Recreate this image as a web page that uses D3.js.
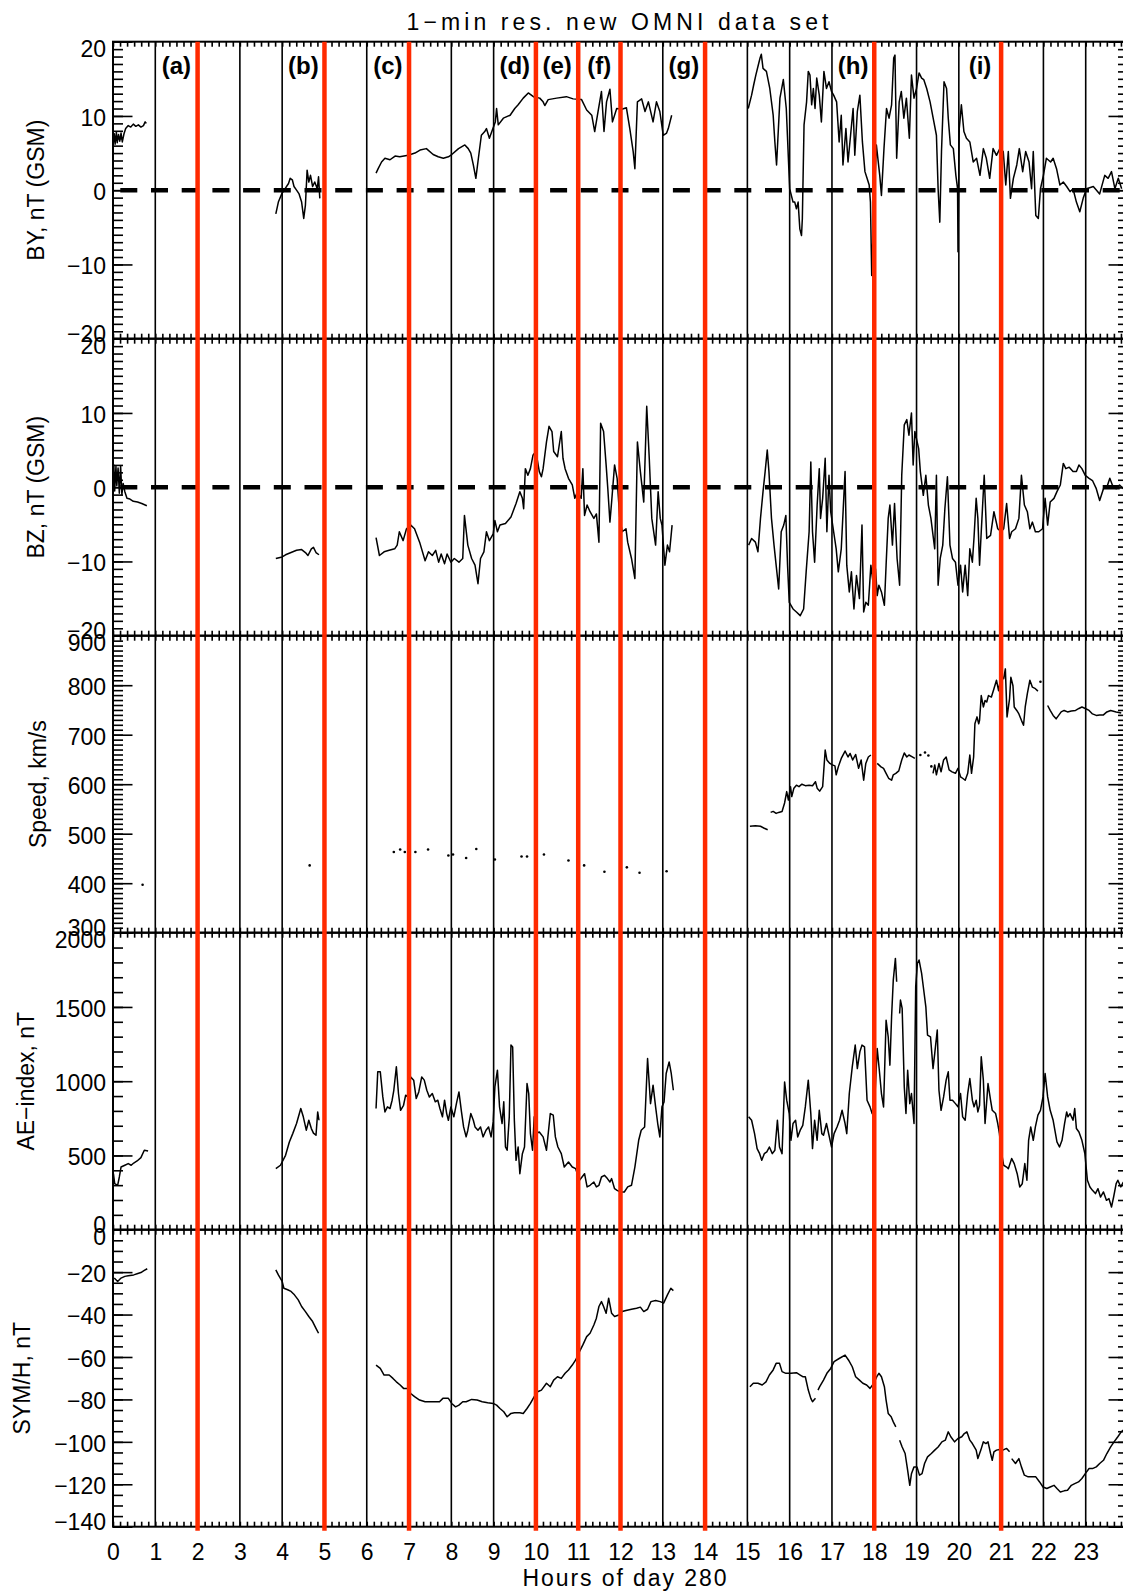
<!DOCTYPE html>
<html>
<head>
<meta charset="utf-8">
<script src="https://cdn.jsdelivr.net/npm/d3@7"></script>
<style>
  body { margin: 0; background: #fff; }
  svg { display: block; font-family: "Liberation Sans", Arial, sans-serif; }
</style>
</head>
<body>
<div id="chart"></div>
<script>
const WIDTH = 1123;
const HEIGHT = 1593;
const MARGINS = { top: 41.7, left: 113, right: 1128 };
const PANEL_HEIGHT = 297;
const FONT_SIZE = 23;
const RED = "#ff2a00";

// Tick labels and event markers
const HOURS = [0, 1, 2, 3, 4, 5, 6, 7, 8, 9, 10, 11, 12, 13, 14, 15, 16, 17, 18, 19, 20, 21, 22, 23];
const EVENT_HOURS = [2, 5, 7, 10, 11, 12, 14, 18, 21];
const EVENT_LABELS = ["(a)", "(b)", "(c)", "(d)", "(e)", "(f)", "(g)", "(h)", "(i)"];
const EVENT_LABEL_HOURS = [1.5, 4.5, 6.5, 9.5, 10.5, 11.5, 13.5, 17.5, 20.5];
const BY_TICKS = [-20, -10, 0, 10, 20];
const BZ_TICKS = [-20, -10, 0, 10, 20];
const SPEED_TICKS = [300, 400, 500, 600, 700, 800, 900];
const AE_TICKS = [0, 500, 1000, 1500, 2000];
const SYM_TICKS = [-140, -120, -100, -80, -60, -40, -20, 0];

// Series values: [hour, value], null = data gap
const BY_VALUES = [
  [0.00,6.0],[0.03,7.6],[0.05,6.2],[0.08,7.8],[0.10,6.4],[0.13,7.5],[0.16,6.6],[0.19,7.7],[0.22,6.5],[0.26,7.6],[0.30,8.3],[0.36,8.7],[0.42,8.5],[0.48,8.9],[0.54,8.6],[0.60,8.8],[0.66,8.5],[0.72,8.7],[0.76,9.2],[0.79,9.0],
  null,
  [3.85,-3.2],[3.91,-1.6],[3.99,-0.5],[4.07,0.2],[4.15,0.9],[4.19,1.6],[4.24,1.4],[4.28,0.5],[4.34,0.0],[4.40,-0.5],[4.46,-1.6],[4.51,-3.8],[4.55,-2.0],[4.59,2.7],[4.63,1.1],[4.67,2.0],[4.72,0.5],[4.77,1.1],[4.83,0.2],[4.86,1.8],[4.89,-1.1],
  null,
  [6.22,2.3],[6.27,2.9],[6.35,3.8],[6.43,4.3],[6.55,4.1],[6.67,4.6],[6.78,4.5],[6.98,4.7],[7.14,5.0],[7.26,5.4],[7.41,5.6],[7.57,4.8],[7.69,4.5],[7.81,4.3],[7.93,4.5],[8.01,4.8],[8.17,5.6],[8.32,6.1],[8.40,5.6],[8.46,5.0],[8.52,3.4],[8.58,1.6],[8.64,4.3],[8.71,7.4],[8.79,7.9],[8.83,8.3],[8.90,7.0],[8.97,8.1],[9.04,9.2],[9.07,11.0],[9.11,8.8],[9.23,9.7],[9.39,10.1],[9.50,11.0],[9.58,11.5],[9.70,12.4],[9.82,13.1],[9.94,12.6],[10.09,12.4],[10.17,11.9],[10.21,11.4],[10.29,12.2],[10.49,12.4],[10.72,12.6],[10.88,12.3],[11.08,12.2],[11.20,10.8],[11.32,10.1],[11.39,7.9],[11.47,10.6],[11.55,13.3],[11.61,7.9],[11.67,11.9],[11.75,13.6],[11.81,9.2],[11.91,11.0],[12.03,10.9],[12.14,11.1],[12.22,8.3],[12.30,5.2],[12.34,2.9],[12.40,11.9],[12.50,12.3],[12.58,10.6],[12.66,11.9],[12.77,9.2],[12.85,11.9],[12.93,10.6],[13.01,7.4],[13.09,7.7],[13.13,8.3],[13.21,10.1],
  null,
  [15.02,11.0],[15.10,12.8],[15.15,14.2],[15.20,15.5],[15.26,16.9],[15.30,17.8],[15.33,18.3],[15.37,16.4],[15.45,16.0],[15.53,13.7],[15.61,10.1],[15.65,6.5],[15.69,3.4],[15.77,12.4],[15.85,14.9],[15.92,11.0],[16.00,0.2],[16.08,-1.6],[16.12,-1.6],[16.16,-2.5],[16.20,-1.6],[16.24,-5.2],[16.28,-6.1],[16.30,-3.8],[16.34,8.8],[16.40,11.9],[16.44,16.0],[16.48,15.5],[16.52,11.5],[16.56,13.7],[16.60,11.0],[16.64,15.1],[16.70,12.8],[16.75,9.2],[16.81,16.0],[16.87,13.7],[16.93,14.6],[16.99,13.3],[17.04,12.8],[17.11,11.9],[17.17,6.5],[17.22,10.1],[17.26,3.4],[17.33,8.3],[17.38,3.8],[17.44,7.4],[17.50,11.0],[17.54,4.7],[17.60,10.6],[17.66,12.8],[17.72,6.5],[17.78,2.5],[17.83,1.6],[17.88,0.7],[17.91,-1.6],[17.94,-11.5],[17.97,-6.1],[18.01,0.2],[18.05,6.1],[18.13,2.0],[18.17,-0.7],[18.23,5.6],[18.29,11.0],[18.35,9.7],[18.41,11.5],[18.46,17.8],[18.49,18.2],[18.53,4.3],[18.59,11.9],[18.64,13.3],[18.70,9.7],[18.76,12.4],[18.83,7.0],[18.88,15.5],[18.94,12.4],[19.00,13.7],[19.06,15.8],[19.12,15.1],[19.17,14.9],[19.24,13.7],[19.32,11.9],[19.41,9.2],[19.47,7.4],[19.51,0.2],[19.55,-4.3],[19.59,5.2],[19.65,14.6],[19.71,13.7],[19.75,9.7],[19.80,6.1],[19.87,5.6],[19.93,2.0],[19.97,0.2],[19.98,-8.3],[20.01,8.3],[20.06,11.5],[20.12,7.9],[20.18,7.0],[20.26,6.5],[20.34,3.8],[20.42,4.3],[20.50,2.0],[20.58,5.6],[20.65,4.3],[20.73,1.6],[20.81,5.6],[20.89,4.7],[20.97,5.6],[21.05,5.2],[21.11,0.7],[21.17,5.2],[21.22,-1.1],[21.29,1.6],[21.37,3.4],[21.43,5.6],[21.51,2.5],[21.58,5.2],[21.66,3.8],[21.72,0.2],[21.76,5.2],[21.82,-3.4],[21.88,-3.8],[21.93,0.2],[22.00,2.0],[22.07,4.3],[22.17,3.8],[22.23,4.3],[22.31,2.9],[22.39,0.7],[22.47,1.1],[22.55,0.5],[22.63,-0.2],[22.70,0.2],[22.78,-1.6],[22.86,-2.9],[22.94,-1.1],[23.02,0.2],[23.18,0.5],[23.33,-0.5],[23.45,2.0],[23.53,1.6],[23.61,2.5],[23.69,0.2],[23.77,1.6],[23.85,0.2]
];

const BZ_VALUES = [
  [0.00,1.5],[0.02,3.0],[0.04,-0.5],[0.07,2.8],[0.09,0.2],[0.12,2.6],[0.15,-0.8],[0.18,2.9],[0.21,-1.0],[0.24,0.5],[0.28,-0.6],[0.33,-1.5],[0.40,-1.6],[0.48,-1.9],[0.58,-2.0],[0.68,-2.2],[0.80,-2.5],
  null,
  [3.85,-9.6],[4.00,-9.4],[4.08,-9.1],[4.21,-8.8],[4.34,-8.5],[4.46,-8.4],[4.55,-8.8],[4.61,-9.2],[4.69,-8.3],[4.74,-8.1],[4.80,-8.8],[4.87,-9.1],
  null,
  [6.22,-6.8],[6.30,-9.2],[6.41,-8.7],[6.53,-8.5],[6.66,-8.3],[6.72,-7.8],[6.77,-6.0],[6.86,-7.2],[6.94,-5.6],[7.04,-5.1],[7.13,-5.6],[7.25,-7.4],[7.38,-9.9],[7.46,-8.7],[7.55,-9.2],[7.63,-8.5],[7.70,-10.1],[7.76,-9.0],[7.84,-10.3],[7.90,-9.0],[7.99,-10.1],[8.07,-9.6],[8.18,-10.1],[8.27,-9.6],[8.31,-3.8],[8.39,-7.8],[8.48,-9.6],[8.56,-10.5],[8.63,-13.0],[8.69,-9.6],[8.77,-8.7],[8.83,-6.0],[8.90,-7.2],[8.99,-6.3],[9.03,-4.5],[9.09,-6.0],[9.15,-5.1],[9.28,-4.9],[9.41,-4.0],[9.53,-2.2],[9.62,-0.6],[9.68,-1.5],[9.71,-2.9],[9.75,2.5],[9.81,1.6],[9.87,2.5],[9.93,4.3],[10.00,4.8],[10.08,2.1],[10.13,1.4],[10.17,2.5],[10.25,6.1],[10.31,8.2],[10.38,7.5],[10.42,4.8],[10.51,4.1],[10.60,7.5],[10.64,3.9],[10.69,2.5],[10.77,1.2],[10.86,0.3],[10.92,-1.5],[10.98,-0.6],[11.07,-1.5],[11.11,2.5],[11.15,-3.8],[11.21,-2.4],[11.28,-3.3],[11.37,-4.2],[11.43,-3.6],[11.49,-7.4],[11.53,8.6],[11.60,7.5],[11.66,3.0],[11.70,-0.2],[11.75,-4.7],[11.79,-2.0],[11.86,3.0],[11.92,1.2],[11.98,-4.0],[12.04,-6.0],[12.13,-5.6],[12.17,-7.4],[12.26,-9.6],[12.34,-12.3],[12.40,6.1],[12.47,2.1],[12.55,-2.0],[12.62,10.9],[12.68,3.9],[12.74,-4.2],[12.83,-7.8],[12.89,-0.6],[12.94,-4.2],[12.98,-5.1],[13.05,-10.5],[13.11,-7.8],[13.16,-8.7],[13.22,-5.1],
  null,
  [15.03,-7.8],[15.10,-6.9],[15.19,-7.4],[15.25,-8.7],[15.31,-4.2],[15.37,-0.6],[15.42,2.1],[15.47,5.0],[15.51,2.1],[15.57,-4.2],[15.63,-7.8],[15.68,-10.5],[15.74,-13.7],[15.80,-6.0],[15.86,-5.1],[15.91,-3.8],[15.95,-10.5],[15.99,-15.5],[16.08,-16.4],[16.16,-16.8],[16.25,-17.3],[16.33,-16.4],[16.39,-11.4],[16.46,-6.0],[16.50,3.4],[16.54,-6.0],[16.59,-10.1],[16.65,-2.4],[16.70,2.5],[16.73,-4.2],[16.78,-1.5],[16.84,3.9],[16.88,-6.0],[16.93,1.6],[16.97,-3.3],[17.04,-6.0],[17.10,-8.3],[17.15,-11.4],[17.22,-8.3],[17.31,2.1],[17.35,-10.5],[17.41,-14.1],[17.46,-11.4],[17.52,-16.4],[17.58,-11.9],[17.65,-15.0],[17.71,-5.1],[17.75,-16.8],[17.80,-15.5],[17.86,-15.9],[17.92,-10.5],[17.97,-12.8],[18.03,-11.0],[18.07,-14.6],[18.11,-13.2],[18.17,-14.1],[18.24,-15.9],[18.28,-10.5],[18.33,-4.2],[18.37,-2.4],[18.43,-7.8],[18.48,-2.2],[18.54,-9.6],[18.60,-13.2],[18.65,1.6],[18.71,8.4],[18.77,9.1],[18.82,7.0],[18.88,10.0],[18.92,3.0],[18.96,7.5],[19.05,5.2],[19.09,2.1],[19.16,-1.1],[19.22,1.6],[19.28,-2.4],[19.34,-4.2],[19.43,-8.3],[19.47,1.6],[19.51,-13.2],[19.56,-9.6],[19.62,-7.8],[19.67,-2.9],[19.73,1.4],[19.79,-7.8],[19.85,-9.6],[19.92,-10.1],[19.98,-13.2],[20.04,-10.5],[20.09,-14.1],[20.15,-10.5],[20.21,-14.6],[20.26,-8.3],[20.32,-10.1],[20.36,-6.7],[20.41,-1.5],[20.45,-4.2],[20.49,-10.5],[20.53,-6.0],[20.60,1.6],[20.66,-6.9],[20.75,-6.5],[20.83,-3.3],[20.92,-5.6],[21.00,-6.0],[21.06,-5.6],[21.13,-2.2],[21.20,-6.9],[21.25,-6.0],[21.34,-5.6],[21.42,-4.2],[21.48,1.6],[21.55,-2.4],[21.62,-3.3],[21.68,-5.6],[21.74,-4.7],[21.81,-6.0],[21.89,-6.0],[21.98,-5.6],[22.04,-1.5],[22.10,-5.1],[22.16,-2.0],[22.25,-1.5],[22.32,-0.6],[22.40,0.3],[22.47,3.2],[22.53,2.5],[22.61,2.7],[22.70,2.1],[22.78,2.1],[22.84,3.0],[22.91,2.5],[22.99,1.6],[23.08,1.2],[23.16,0.9],[23.25,-0.2],[23.33,-1.8],[23.42,-0.2],[23.50,0.0],[23.57,1.2],[23.63,0.3],[23.72,-0.2],[23.80,0.3],[23.89,-0.2]
];

const SPEED_VALUES = [
  [15.06,515],[15.19,516],[15.31,515],[15.40,511],[15.48,508],
  null,
  [15.55,543],[15.61,545],[15.68,541],[15.74,543],[15.82,545],[15.88,562],[15.93,585],[15.97,568],[16.02,595],[16.05,575],[16.10,592],[16.16,598],[16.22,595],[16.29,600],[16.37,597],[16.46,598],[16.54,597],[16.61,605],[16.65,592],[16.71,586],[16.78,595],[16.84,669],[16.88,649],[16.95,642],[17.01,639],[17.07,637],[17.10,619],[17.15,635],[17.22,652],[17.31,667],[17.38,655],[17.43,662],[17.49,649],[17.56,660],[17.63,632],[17.69,649],[17.75,608],[17.80,642],[17.86,655],[17.92,659],
  null,
  [18.07,642],[18.16,635],[18.22,632],[18.28,622],[18.34,612],[18.41,608],[18.45,619],[18.51,622],[18.58,627],[18.65,649],[18.71,663],[18.77,655],[18.82,659],[18.90,655],[18.96,652],
  null,
  [19.39,622],[19.43,639],[19.47,619],[19.53,642],[19.58,625],[19.64,649],[19.70,655],[19.77,629],[19.84,625],[19.92,622],[19.98,632],[20.04,615],[20.09,612],[20.15,608],[20.21,622],[20.26,659],[20.30,622],[20.35,655],[20.38,722],[20.43,736],[20.47,722],[20.49,729],[20.53,779],[20.58,756],[20.62,769],[20.66,766],[20.70,779],[20.77,776],[20.83,793],[20.89,810],[20.94,789],[21.00,820],[21.06,813],[21.10,833],[21.14,736],[21.20,773],[21.23,816],[21.28,799],[21.31,756],[21.37,749],[21.42,742],[21.48,729],[21.53,719],[21.57,756],[21.62,783],[21.68,810],[21.74,796],[21.81,793],[21.87,788],
  null,
  [22.10,759],[22.16,749],[22.23,739],[22.30,732],[22.36,739],[22.42,746],[22.49,749],[22.57,746],[22.66,748],[22.76,749],[22.84,753],[22.91,756],[22.99,753],[23.08,749],[23.16,742],[23.25,739],[23.33,740],[23.42,740],[23.50,746],[23.59,749],[23.72,746],[23.84,744]
];

// isolated 1-min speed samples
const SPEED_DOTS = [
  [0.70,397],[4.65,436],[6.64,463],[6.79,468],[6.90,463],[7.15,463],[7.45,468],[7.93,456],[8.04,458],[8.35,451],[8.59,469],[9.03,448],[9.66,454],[9.79,454],[10.19,458],[10.77,446],[11.14,436],[11.62,423],[12.15,432],[12.45,421],[13.09,424],
  [18.00,645],[19.09,659],[19.20,664],[19.28,658],[19.35,636],[21.93,807]
];

const AE_VALUES = [
  [0.01,377],[0.04,310],[0.11,299],[0.15,355],[0.19,422],[0.28,434],[0.36,445],[0.43,434],[0.49,449],[0.57,463],[0.66,485],[0.74,535],[0.83,530],
  null,
  [3.85,411],[3.96,434],[4.08,501],[4.17,591],[4.25,647],[4.34,715],[4.44,816],[4.50,760],[4.57,670],[4.63,737],[4.69,681],[4.74,650],[4.80,636],[4.84,793],[4.87,737],
  null,
  [6.22,816],[6.26,1063],[6.32,1063],[6.38,894],[6.43,793],[6.49,827],[6.55,816],[6.60,872],[6.64,939],[6.70,1097],[6.75,917],[6.80,804],[6.87,838],[6.92,906],[6.97,894],[7.04,1029],[7.11,1007],[7.17,883],[7.23,928],[7.30,1029],[7.36,1007],[7.42,939],[7.48,894],[7.55,917],[7.62,861],[7.68,872],[7.73,816],[7.79,760],[7.84,872],[7.89,782],[7.93,737],[7.99,827],[8.06,760],[8.12,849],[8.18,928],[8.24,793],[8.29,692],[8.35,625],[8.39,670],[8.46,782],[8.52,737],[8.56,692],[8.63,670],[8.69,692],[8.75,625],[8.82,670],[8.88,692],[8.94,625],[8.99,726],[9.03,962],[9.09,1074],[9.14,827],[9.20,715],[9.24,861],[9.28,557],[9.32,535],[9.37,760],[9.41,1243],[9.45,1231],[9.49,737],[9.53,467],[9.58,557],[9.62,377],[9.68,512],[9.73,557],[9.79,984],[9.83,917],[9.87,647],[9.92,535],[9.96,760],[10.00,647],[10.08,658],[10.17,625],[10.25,535],[10.34,782],[10.41,771],[10.46,625],[10.52,557],[10.60,512],[10.67,422],[10.77,456],[10.86,422],[10.94,411],[11.03,333],[11.09,355],[11.15,377],[11.21,288],[11.28,299],[11.37,321],[11.43,288],[11.49,299],[11.55,355],[11.62,366],[11.69,344],[11.75,321],[11.79,344],[11.86,276],[11.92,265],[12.00,254],[12.09,254],[12.17,288],[12.26,299],[12.34,422],[12.43,602],[12.49,670],[12.57,692],[12.64,1153],[12.71,849],[12.77,973],[12.83,827],[12.88,715],[12.93,625],[12.98,827],[13.03,861],[13.08,1052],[13.15,1130],[13.20,1052],[13.25,939],
  null,
  [15.03,760],[15.10,737],[15.17,647],[15.23,546],[15.29,512],[15.34,467],[15.40,512],[15.46,524],[15.52,557],[15.59,512],[15.65,535],[15.71,737],[15.76,557],[15.82,512],[15.88,995],[15.93,872],[15.99,782],[16.03,602],[16.08,715],[16.14,737],[16.19,625],[16.25,670],[16.31,703],[16.37,827],[16.44,1007],[16.50,782],[16.54,546],[16.59,737],[16.65,602],[16.70,804],[16.76,647],[16.80,636],[16.87,715],[16.93,636],[16.99,557],[17.05,647],[17.12,692],[17.18,737],[17.24,804],[17.31,715],[17.35,647],[17.41,917],[17.48,1097],[17.55,1243],[17.60,1085],[17.66,1198],[17.71,1243],[17.77,1231],[17.83,872],[17.90,827],[17.95,782],[18.00,804],[18.07,1220],[18.12,1074],[18.17,917],[18.22,827],[18.28,1411],[18.33,1299],[18.37,1108],[18.41,1434],[18.45,1681],[18.50,1827],[18.53,1670],
  null,
  [18.60,1456],[18.62,1546],[18.66,1490],[18.71,962],[18.75,782],[18.79,1074],[18.84,849],[18.88,917],[18.94,715],[18.98,1636],[19.02,1793],[19.06,1816],[19.12,1726],[19.16,1636],[19.22,1501],[19.26,1310],[19.33,1299],[19.39,1085],[19.43,1186],[19.49,1344],[19.53,939],[19.58,804],[19.64,894],[19.70,1007],[19.75,1063],[19.79,872],[19.85,872],[19.92,849],[19.98,827],[20.04,917],[20.09,760],[20.15,737],[20.21,917],[20.26,1018],[20.32,872],[20.36,827],[20.41,872],[20.45,793],[20.49,838],[20.53,1164],[20.58,1007],[20.62,715],[20.69,984],[20.75,872],[20.79,804],[20.87,782],[20.92,715],[20.96,647],[21.00,535],[21.06,434],[21.13,422],[21.17,411],[21.25,479],[21.31,445],[21.38,377],[21.44,288],[21.50,310],[21.56,445],[21.61,333],[21.65,602],[21.70,692],[21.76,602],[21.81,692],[21.87,771],[21.93,804],[21.99,894],[22.04,1052],[22.10,894],[22.16,804],[22.23,737],[22.32,591],[22.38,557],[22.44,602],[22.50,715],[22.55,793],[22.58,760],[22.63,782],[22.70,737],[22.74,816],[22.78,681],[22.84,658],[22.91,602],[22.98,512],[23.04,333],[23.10,288],[23.16,265],[23.23,243],[23.29,276],[23.35,220],[23.42,254],[23.49,198],[23.55,209],[23.61,153],[23.66,220],[23.72,310],[23.76,333],[23.83,288],[23.89,321]
];

const SYM_VALUES = [
  [0.03,-22.8],[0.11,-24.4],[0.19,-22.8],[0.28,-22.0],[0.36,-21.7],[0.49,-21.3],[0.57,-20.8],[0.66,-20.2],[0.74,-19.2],[0.81,-18.4],
  null,
  [3.85,-18.9],[3.91,-21.3],[4.00,-24.4],[4.04,-27.6],[4.13,-28.3],[4.21,-29.1],[4.29,-30.7],[4.38,-33.1],[4.46,-36.2],[4.55,-38.6],[4.63,-40.9],[4.72,-43.3],[4.80,-46.5],[4.86,-48.8],
  null,
  [6.22,-63.8],[6.32,-65.4],[6.41,-68.5],[6.53,-68.5],[6.62,-70.1],[6.70,-71.7],[6.79,-73.2],[6.87,-74.8],[6.96,-74.8],[7.04,-77.2],[7.13,-78.7],[7.25,-80.3],[7.38,-81.1],[7.55,-81.1],[7.72,-81.1],[7.80,-79.5],[7.93,-79.5],[8.01,-81.9],[8.10,-83.5],[8.18,-82.7],[8.27,-81.1],[8.35,-81.1],[8.48,-80.0],[8.61,-80.3],[8.73,-81.1],[8.86,-81.6],[8.99,-81.9],[9.07,-82.7],[9.15,-84.3],[9.24,-85.8],[9.32,-88.2],[9.41,-86.6],[9.49,-86.3],[9.62,-86.3],[9.70,-86.6],[9.79,-84.3],[9.87,-81.9],[9.96,-78.7],[10.04,-76.4],[10.13,-75.6],[10.25,-72.4],[10.34,-74.0],[10.42,-70.9],[10.51,-69.3],[10.60,-70.1],[10.69,-67.7],[10.77,-66.1],[10.86,-63.8],[10.94,-61.4],[11.03,-57.5],[11.11,-54.3],[11.20,-50.4],[11.28,-48.8],[11.37,-44.9],[11.43,-41.7],[11.49,-36.2],[11.55,-33.9],[11.60,-36.2],[11.66,-39.4],[11.72,-32.3],[11.79,-39.4],[11.86,-40.9],[11.96,-40.2],[12.04,-38.6],[12.13,-38.1],[12.26,-37.5],[12.38,-37.0],[12.47,-36.5],[12.55,-38.6],[12.64,-37.5],[12.72,-33.9],[12.83,-33.4],[12.94,-33.9],[13.02,-34.6],[13.11,-30.7],[13.19,-27.6],[13.25,-28.7],
  null,
  [15.06,-74.0],[15.14,-72.4],[15.25,-72.4],[15.35,-73.2],[15.44,-71.7],[15.52,-68.5],[15.61,-66.1],[15.68,-63.0],[15.76,-63.0],[15.82,-66.9],[15.91,-67.7],[16.03,-67.7],[16.16,-67.4],[16.25,-68.5],[16.31,-69.3],[16.37,-69.3],[16.44,-75.6],[16.50,-79.5],[16.54,-81.1],[16.61,-79.5],
  null,
  [16.67,-75.6],[16.71,-74.0],[16.80,-70.9],[16.88,-67.7],[16.97,-65.4],[17.05,-62.2],[17.18,-60.6],[17.31,-59.1],[17.39,-61.4],[17.48,-64.6],[17.56,-69.3],[17.65,-70.9],[17.73,-72.4],[17.82,-73.2],[17.90,-74.8],[17.99,-72.4],[18.06,-69.3],[18.11,-67.7],[18.17,-69.3],[18.24,-74.0],[18.28,-80.3],[18.33,-86.6],[18.40,-88.2],[18.45,-90.6],[18.51,-92.9],
  null,
  [18.60,-99.2],[18.66,-102.4],[18.73,-105.5],[18.79,-113.4],[18.84,-120.5],[18.88,-115.0],[18.94,-111.8],[19.01,-111.8],[19.07,-115.7],[19.13,-115.0],[19.19,-110.2],[19.26,-107.1],[19.35,-105.5],[19.43,-103.9],[19.51,-102.4],[19.60,-100.0],[19.68,-99.2],[19.75,-95.3],[19.81,-97.6],[19.90,-100.0],[19.98,-98.4],[20.07,-97.6],[20.13,-96.1],[20.19,-95.3],[20.26,-99.2],[20.32,-100.8],[20.41,-103.9],[20.45,-107.9],[20.52,-103.9],[20.58,-100.0],[20.64,-100.8],[20.69,-100.0],[20.75,-105.5],[20.79,-108.7],[20.83,-104.7],[20.89,-103.9],[20.96,-103.6],[21.04,-103.9],[21.13,-103.1],[21.20,-104.7],
  null,
  [21.25,-107.9],[21.34,-110.2],[21.42,-107.9],[21.48,-111.8],[21.55,-115.7],[21.64,-116.5],[21.74,-116.5],[21.82,-116.5],[21.91,-118.9],[21.99,-121.3],[22.08,-122.0],[22.16,-121.3],[22.25,-120.5],[22.32,-122.0],[22.40,-123.6],[22.49,-123.1],[22.57,-122.8],[22.66,-120.5],[22.74,-119.7],[22.83,-118.9],[22.91,-117.3],[22.99,-115.0],[23.08,-112.6],[23.16,-112.6],[23.25,-111.8],[23.33,-110.2],[23.42,-108.7],[23.50,-105.5],[23.59,-102.4],[23.67,-100.0],[23.76,-97.6],[23.84,-95.3],[23.89,-94.5]
];

const PANELS = [
  { title: "BY, nT (GSM)", domain: [-20, 20], ticks: BY_TICKS, minor: 1, data: BY_VALUES, zero: true, titleX: 44 },
  { title: "BZ, nT (GSM)", domain: [-20, 20], ticks: BZ_TICKS, minor: 1, data: BZ_VALUES, zero: true, titleX: 44 },
  { title: "Speed, km/s", domain: [300, 900], ticks: SPEED_TICKS, minor: 10, data: SPEED_VALUES, dots: SPEED_DOTS, titleX: 46 },
  { title: "AE\u2212index, nT", domain: [0, 2000], ticks: AE_TICKS, minor: 100, data: AE_VALUES, titleX: 34 },
  { title: "SYM/H, nT", domain: [-140, 0], ticks: SYM_TICKS, minor: 5, data: SYM_VALUES, titleX: 30 }
];

function OmniChart() {

    const x = d3.scaleLinear().domain([0, 24]).range([MARGINS.left, MARGINS.right]);
    const plotTop = MARGINS.top;
    const plotBottom = MARGINS.top + PANELS.length * PANEL_HEIGHT;

    var svg = d3.select("#chart").append("svg")
        .attr("width", WIDTH)
        .attr("height", HEIGHT)
        .attr("viewBox", [0, 0, WIDTH, HEIGHT]);

    svg.append("rect")
        .attr("width", WIDTH)
        .attr("height", HEIGHT)
        .style("fill", "#fff");

    var gGrid = svg.append("g");
    var gData = svg.append("g");
    var gAxes = svg.append("g");
    var gRed = svg.append("g");
    var gText = svg.append("g");

    // Title
    gText.append("text")
        .text("1\u2212min res. new OMNI data set")
        .attr("x", (MARGINS.left + MARGINS.right) / 2 - 3)
        .attr("y", 30)
        .attr("text-anchor", "middle")
        .attr("textLength", 422)
        .attr("lengthAdjust", "spacing")
        .style("font-size", FONT_SIZE + "px");

    // Hour grid lines across all panels
    gGrid.selectAll("line")
        .data(HOURS.filter(h => h > 0))
        .join("line")
        .attr("x1", d => x(d))
        .attr("x2", d => x(d))
        .attr("y1", plotTop)
        .attr("y2", plotBottom)
        .style("stroke", "#000")
        .style("stroke-width", 1.6);

    var minorHours = d3.range(0, 24 * 6 + 1).map(d => d / 6);
    var line = d3.line()
        .defined(d => d !== null)
        .x(d => x(d[0]))
        .y(d => d[1]);

    PANELS.forEach(function(p, i) {
        var top = MARGINS.top + i * PANEL_HEIGHT;
        var bottom = top + PANEL_HEIGHT;
        var y = d3.scaleLinear().domain(p.domain).range([bottom, top]);

        // Dashed zero line
        if (p.zero) {
            gData.append("line")
                .attr("x1", x(0))
                .attr("x2", x(24))
                .attr("y1", y(0))
                .attr("y2", y(0))
                .style("stroke", "#000")
                .style("stroke-width", 4.5)
                .style("stroke-dasharray", "17 13.7")
                .style("stroke-dashoffset", 23.4);
        }

        // Data line
        gData.append("path")
            .attr("d", line(p.data.map(d => d === null ? null : [d[0], y(d[1])])))
            .style("fill", "none")
            .style("stroke", "#000")
            .style("stroke-width", 1.5)
            .style("stroke-linejoin", "round");

        if (p.dots) {
            gData.selectAll(null)
                .data(p.dots)
                .join("circle")
                .attr("cx", d => x(d[0]))
                .attr("cy", d => y(d[1]))
                .attr("r", 1.3)
                .style("fill", "#000");
        }

        // Frame
        gAxes.append("rect")
            .attr("x", x(0))
            .attr("y", top)
            .attr("width", x(24) - x(0))
            .attr("height", PANEL_HEIGHT)
            .style("fill", "none")
            .style("stroke", "#000")
            .style("stroke-width", 2);

        var minorTicks = d3.range(p.domain[0], p.domain[1] + p.minor / 2, p.minor);

        // Left axis: minor, then major with labels
        var left = gAxes.append("g").attr("transform", `translate(${x(0)},0)`);
        left.call(d3.axisLeft(y).tickValues(minorTicks).tickSize(-10).tickSizeOuter(0).tickFormat(""));
        var leftMajor = gAxes.append("g").attr("transform", `translate(${x(0)},0)`);
        leftMajor.call(d3.axisLeft(y).tickValues(p.ticks).tickSize(-19.5).tickSizeOuter(0).tickPadding(7).tickFormat(d3.format("d")));
        leftMajor.selectAll("text")
            .attr("y", d => d === p.domain[1] ? 7 : d === p.domain[0] ? -5 : 2)
            .style("font-size", FONT_SIZE + "px")
            .style("font-family", "Liberation Sans, Arial, sans-serif")
            .style("fill", "#000");

        // Right axis (mirrored)
        var right = gAxes.append("g").attr("transform", `translate(${x(24)},0)`);
        right.call(d3.axisRight(y).tickValues(minorTicks).tickSize(-10).tickSizeOuter(0).tickFormat(""));
        var rightMajor = gAxes.append("g").attr("transform", `translate(${x(24)},0)`);
        rightMajor.call(d3.axisRight(y).tickValues(p.ticks).tickSize(-19.5).tickSizeOuter(0).tickFormat(""));

        // Top and bottom 10-min ticks
        var topAx = gAxes.append("g").attr("transform", `translate(0,${top})`);
        topAx.call(d3.axisTop(x).tickValues(minorHours).tickSize(-5).tickSizeOuter(0).tickFormat(""));
        var botAx = gAxes.append("g").attr("transform", `translate(0,${bottom})`);
        botAx.call(d3.axisBottom(x).tickValues(minorHours).tickSize(-5).tickSizeOuter(0).tickFormat(""));

        [left, leftMajor, right, rightMajor, topAx, botAx].forEach(function(a) {
            a.select(".domain").remove();
            a.selectAll(".tick line").style("stroke", "#000").style("stroke-width", 1.6);
        });

        // Y title
        gText.append("text")
            .text(p.title)
            .attr("transform", `translate(${p.titleX},${(top + bottom) / 2}) rotate(-90)`)
            .attr("text-anchor", "middle")
            .style("font-size", FONT_SIZE + "px");

        // Hour labels under the last panel
        if (i === PANELS.length - 1) {
            var hx = gText.append("g").attr("transform", `translate(0,${bottom})`);
            hx.call(d3.axisBottom(x).tickValues(HOURS).tickSize(0).tickPadding(17).tickFormat(d3.format("d")));
            hx.select(".domain").remove();
            hx.selectAll("text")
                .style("font-size", FONT_SIZE + "px")
                .style("font-family", "Liberation Sans, Arial, sans-serif")
                .style("fill", "#000");
        }
    });

    // Event lines
    gRed.selectAll("line")
        .data(EVENT_HOURS)
        .join("line")
        .attr("x1", d => x(d))
        .attr("x2", d => x(d))
        .attr("y1", plotTop)
        .attr("y2", plotBottom + 4)
        .style("stroke", RED)
        .style("stroke-width", 4.5);

    // Event labels
    gText.selectAll(".evt")
        .data(EVENT_LABELS)
        .join("text")
        .attr("class", "evt")
        .text(d => d)
        .attr("x", (d, k) => x(EVENT_LABEL_HOURS[k]))
        .attr("y", 74)
        .attr("text-anchor", "middle")
        .style("font-size", "24px")
        .style("font-weight", "bold");

    // X title
    gText.append("text")
        .text("Hours of day 280")
        .attr("x", (MARGINS.left + MARGINS.right) / 2 + 4)
        .attr("y", 1586)
        .attr("text-anchor", "middle")
        .attr("textLength", 204)
        .attr("lengthAdjust", "spacing")
        .style("font-size", FONT_SIZE + "px");

    return svg;
}

OmniChart();
</script>
</body>
</html>
